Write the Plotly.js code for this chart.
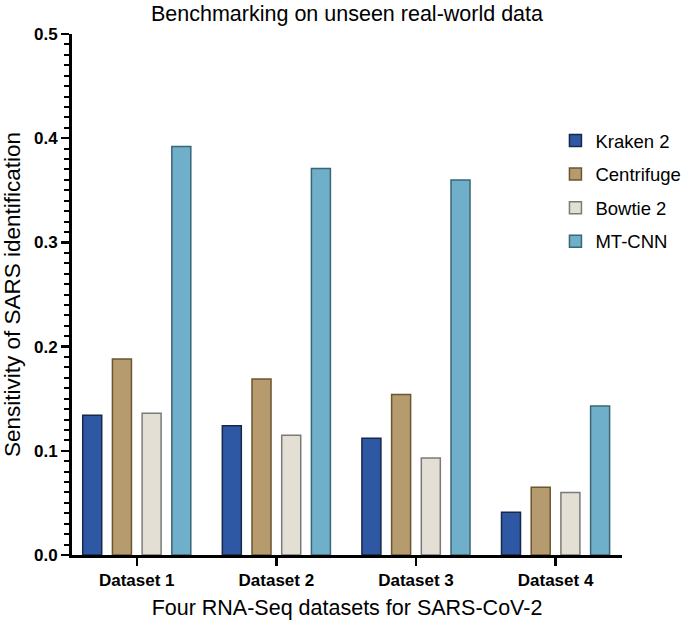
<!DOCTYPE html>
<html>
<head>
<meta charset="utf-8">
<script src="https://cdn.plot.ly/plotly-3.0.1.min.js"></script>
<style>body{margin:0;padding:0;background:#fff;} #chart{width:685px;height:620px;}</style>
</head>
<body>
<div id="chart"></div>
<script>
const categories = ["Dataset 1", "Dataset 2", "Dataset 3", "Dataset 4"];
const seriesNames = ["Kraken 2", "Centrifuge", "Bowtie 2", "MT-CNN"];
const kraken2 = [0.134, 0.124, 0.112, 0.041];
const centrifuge = [0.188, 0.169, 0.154, 0.065];
const bowtie2 = [0.136, 0.115, 0.093, 0.060];
const mtcnn = [0.392, 0.371, 0.360, 0.143];

const fills = ["#2E57A4", "#B69B6E", "#E3DFD5", "#70AFC9"];
const lines = ["#17284A", "#6B5630", "#7A7A78", "#3B6676"];
const values = [kraken2, centrifuge, bowtie2, mtcnn];

const traces = values.map((v, i) => ({
  type: "bar",
  name: seriesNames[i],
  x: categories,
  y: v,
  legendgroup: "g" + i,
  marker: { color: fills[i], line: { color: lines[i], width: 1.5 } },
  hoverinfo: "x+y+name"
}));

const FONT = "Liberation Sans, Arial, Helvetica, sans-serif";

const layout = {
  width: 685,
  height: 620,
  margin: { l: 72, r: 63, t: 34, b: 64.5, autoexpand: false },
  paper_bgcolor: "#fff",
  plot_bgcolor: "#fff",
  font: { family: FONT, color: "#000" },
  title: {
    text: "Benchmarking on unseen real-world data",
    font: { size: 21.5, color: "#000" },
    x: 0.5, xanchor: "center", xref: "paper",
    y: 0.979, yanchor: "middle", yref: "container"
  },
  barmode: "group",
  bargap: 0.149,
  bargroupgap: 0.36,
  xaxis: {
    type: "category",
    range: [-0.464, 3.476],
    showline: true, linecolor: "#000", linewidth: 3,
    ticks: "outside", ticklen: 8, tickwidth: 2.5, tickcolor: "#000",
    tickfont: { size: 17, family: FONT, weight: "bold" },
    showgrid: false, zeroline: false,
    automargin: false,
    title: { text: "Four RNA-Seq datasets for SARS-CoV-2", font: { size: 21.5 }, standoff: 16 }
  },
  yaxis: {
    range: [0, 0.5],
    tickmode: "linear", tick0: 0, dtick: 0.1, tickformat: ".1f",
    showline: true, linecolor: "#000", linewidth: 3,
    ticks: "outside", ticklen: 8, tickwidth: 2.5, tickcolor: "#000",
    tickfont: { size: 17, family: FONT, weight: "bold" },
    minor: { dtick: 0.01, tick0: 0, ticks: "outside", ticklen: 5, tickwidth: 2, tickcolor: "#000", showgrid: false },
    showgrid: false, zeroline: false,
    automargin: false,
    title: { text: "Sensitivity of SARS identification", font: { size: 22.5 }, standoff: 14 }
  },
  showlegend: true,
  legend: {
    x: 0.879, xanchor: "left", y: 0.831, yanchor: "top",
    font: { size: 18.5, color: "#000" },
    traceorder: "grouped",
    tracegroupgap: 6.5,
    bgcolor: "rgba(0,0,0,0)"
  }
};

Plotly.newPlot("chart", traces, layout, { displayModeBar: false, staticPlot: true });
</script>
</body>
</html>
